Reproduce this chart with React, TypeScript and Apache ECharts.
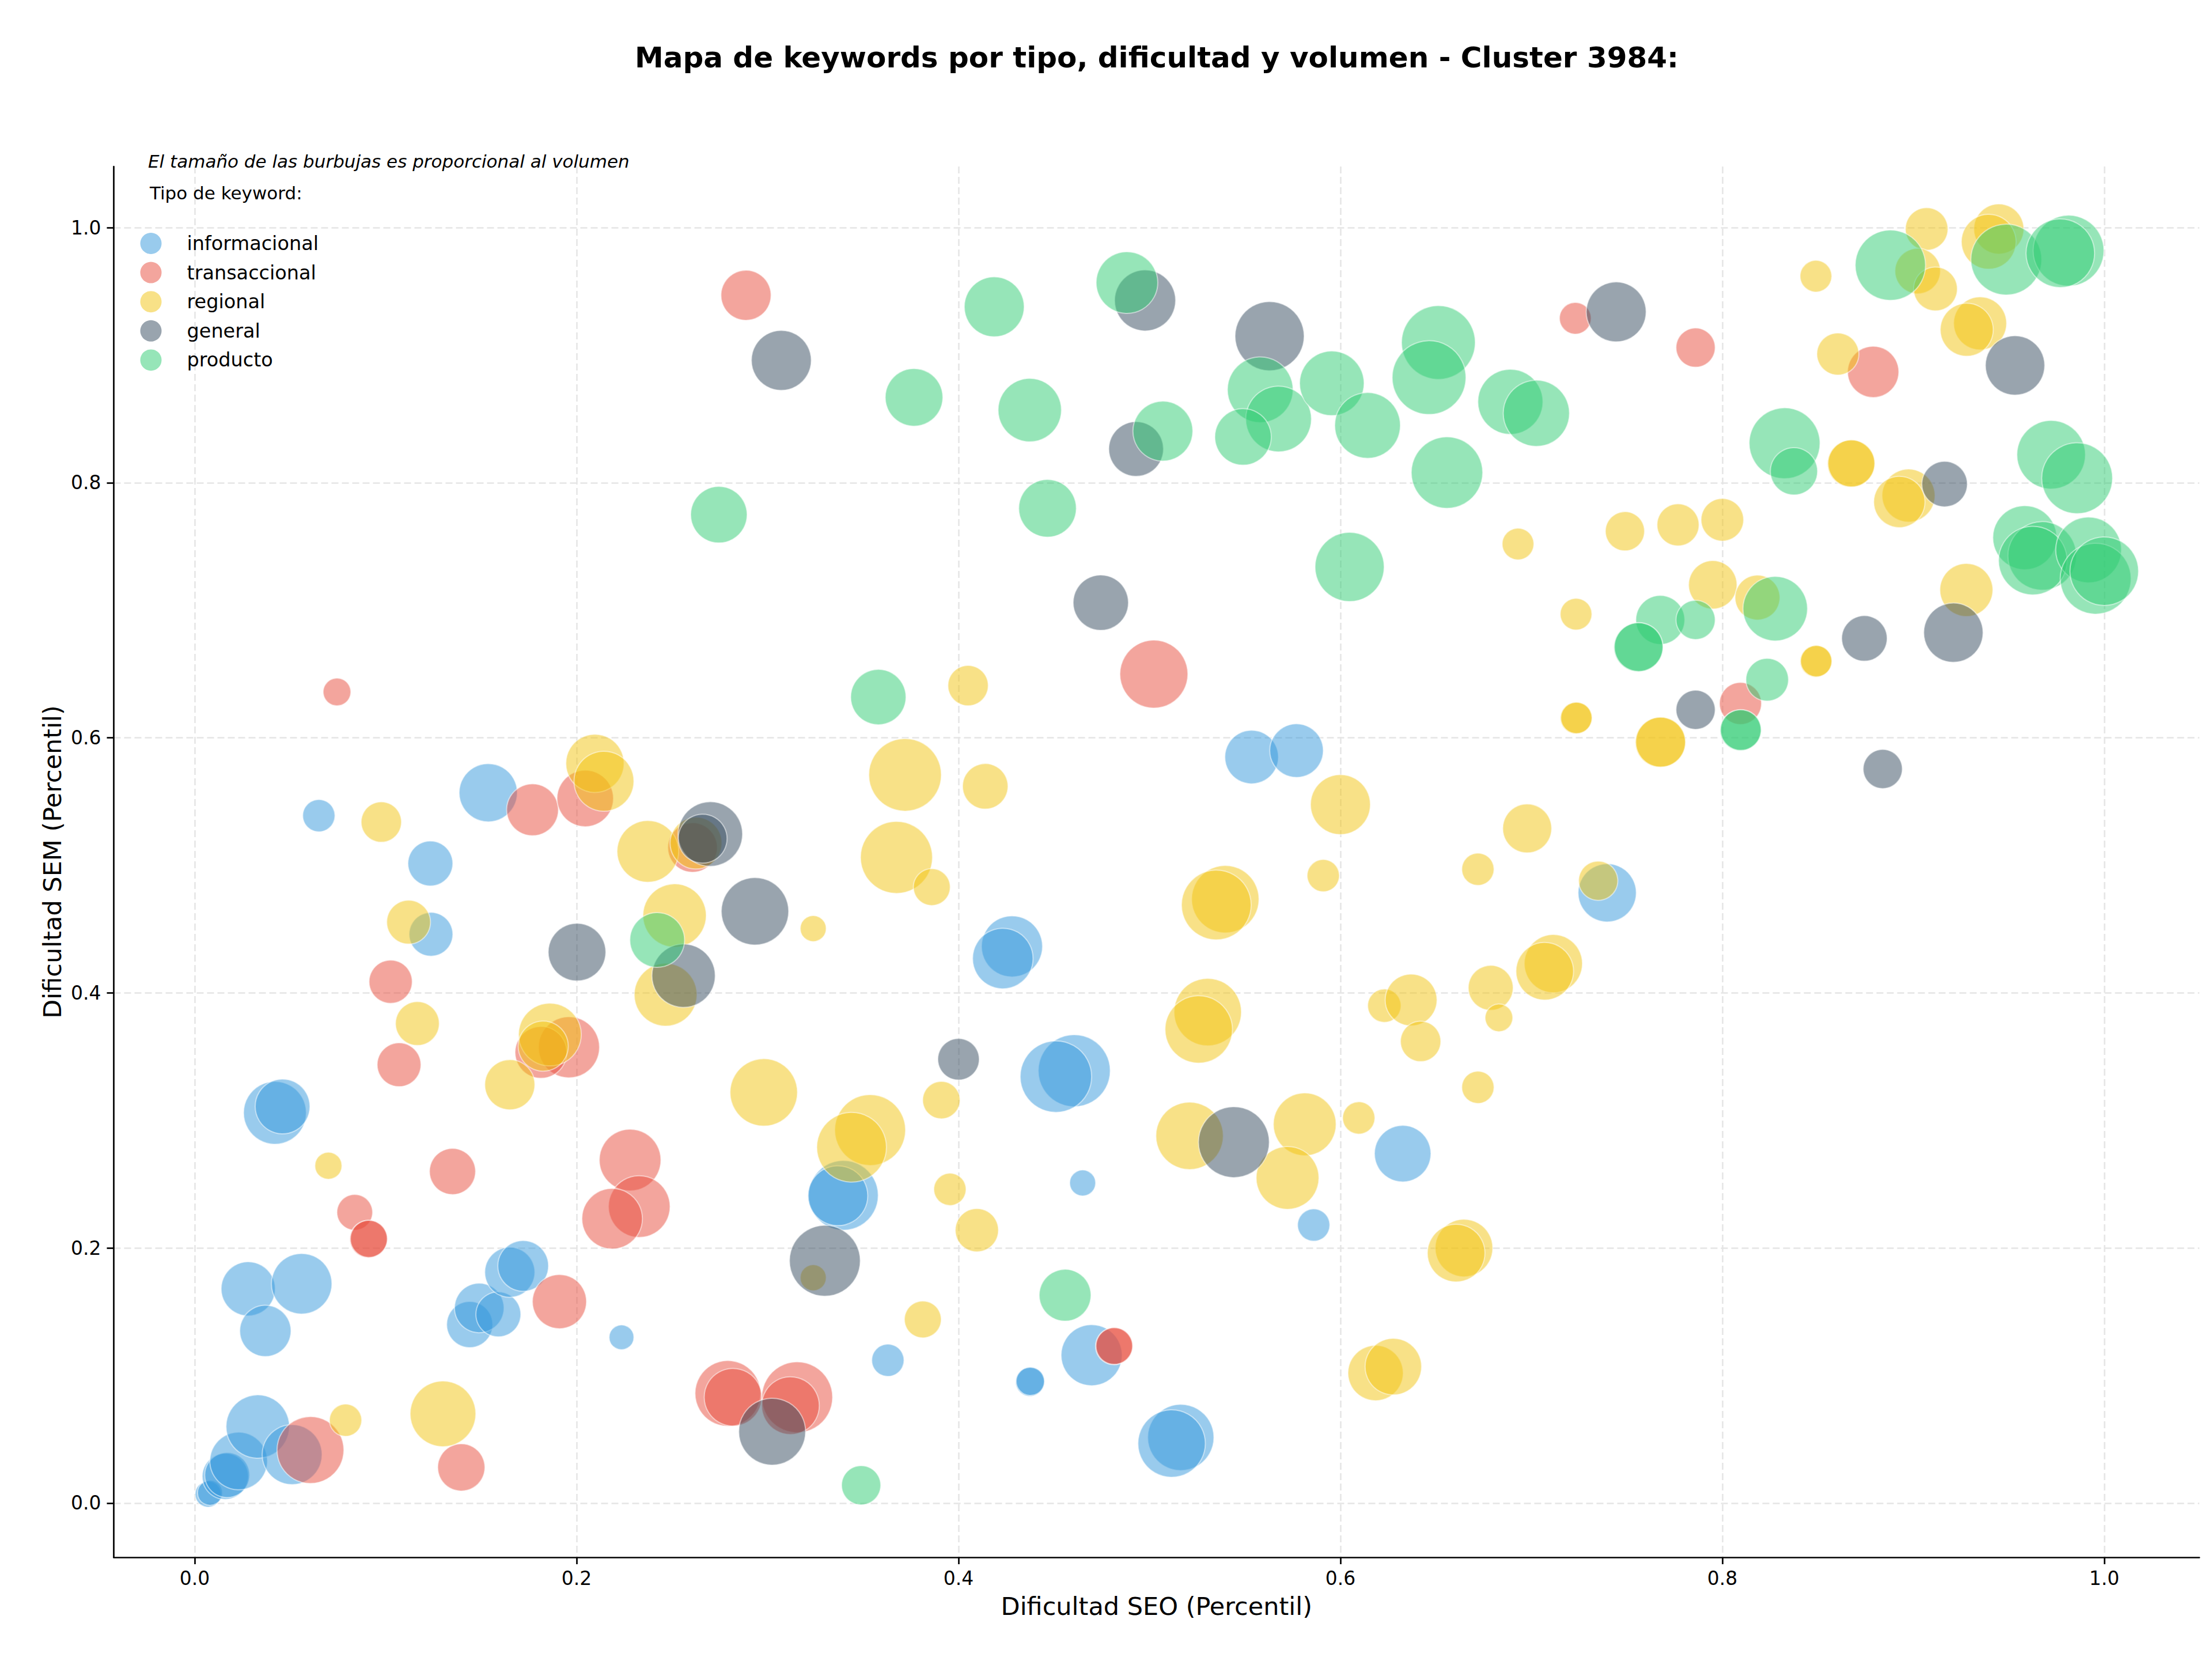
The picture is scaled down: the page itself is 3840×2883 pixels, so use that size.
import React, { useEffect, useRef } from "react";
import * as echarts from "echarts";

// ---- DATA: [Dificultad SEO, Dificultad SEM, volumen] ----
const informacional: [number, number, number][] = [
  [0.007, 0.007, 1300], [0.008, 0.008, 1200],
  [0.016, 0.021, 4100], [0.017, 0.022, 3900],
  [0.023, 0.033, 6400], [0.033, 0.06, 7740], [0.051, 0.038, 6920],
  [0.028, 0.168, 5650], [0.056, 0.172, 7060], [0.037, 0.135, 5070],
  [0.042, 0.306, 7600], [0.046, 0.311, 5780],
  [0.144, 0.14, 4100], [0.149, 0.153, 4730], [0.159, 0.148, 3890],
  [0.165, 0.181, 4840], [0.172, 0.186, 4960], [0.2235, 0.13, 1180],
  [0.065, 0.539, 2010], [0.1234, 0.5015, 3890], [0.1537, 0.557, 6530],
  [0.1237, 0.446, 3700], [0.5535, 0.585, 5540], [0.577, 0.59, 5540],
  [0.428, 0.4365, 7190], [0.4232, 0.427, 7060],
  [0.4606, 0.339, 10000], [0.451, 0.3344, 9840],
  [0.3397, 0.2413, 9370], [0.3368, 0.241, 6900],
  [0.465, 0.251, 1300], [0.586, 0.218, 2010], [0.6326, 0.274, 6150],
  [0.363, 0.112, 2010], [0.4697, 0.116, 7190],
  [0.4374, 0.095, 1600], [0.4376, 0.0955, 1550],
  [0.5164, 0.0515, 8460], [0.5116, 0.0467, 8760], [0.7397, 0.4785, 6530],
];

const transaccional: [number, number, number][] = [
  [0.0606, 0.0416, 8610], [0.1396, 0.028, 4300], [0.0838, 0.228, 2460],
  [0.091, 0.207, 2700], [0.0912, 0.2072, 2650],
  [0.135, 0.26, 4100], [0.191, 0.158, 5650],
  [0.228, 0.269, 7330], [0.2328, 0.2325, 7330], [0.2186, 0.223, 7060],
  [0.2792, 0.086, 8320], [0.2819, 0.083, 6400],
  [0.3155, 0.083, 9680], [0.312, 0.0764, 6400],
  [0.0745, 0.636, 1480], [0.1769, 0.5436, 5180], [0.2045, 0.5525, 6150],
  [0.2607, 0.514, 4730], [0.1026, 0.4088, 3600], [0.107, 0.3437, 3700],
  [0.196, 0.3574, 7190], [0.1813, 0.3534, 5180], [0.5023, 0.65, 8910],
  [0.4814, 0.123, 2620], [0.4816, 0.1232, 2600],
  [0.2887, 0.947, 4840], [0.723, 0.929, 1940], [0.786, 0.906, 2960],
  [0.879, 0.887, 5070], [0.8095, 0.627, 3410],
];

const regional: [number, number, number][] = [
  [0.079, 0.065, 2010], [0.13, 0.07, 8320], [0.07, 0.2645, 1410],
  [0.165, 0.328, 4840], [0.0977, 0.534, 3140], [0.2096, 0.58, 6530],
  [0.2143, 0.566, 6920], [0.2373, 0.511, 7330], [0.2625, 0.5175, 5180],
  [0.112, 0.4555, 3700], [0.1166, 0.376, 3700], [0.2513, 0.4607, 7740],
  [0.2466, 0.3986, 7600], [0.186, 0.3674, 7600], [0.1825, 0.3583, 4840],
  [0.298, 0.322, 8760], [0.3239, 0.4505, 1300], [0.405, 0.641, 3140],
  [0.372, 0.571, 10160], [0.414, 0.562, 3990], [0.3675, 0.5063, 10000],
  [0.386, 0.483, 2620], [0.6, 0.5477, 6920], [0.5397, 0.4735, 8760],
  [0.535, 0.469, 9370], [0.591, 0.492, 2010], [0.672, 0.497, 2010],
  [0.5305, 0.385, 8760], [0.5258, 0.3714, 8760], [0.623, 0.39, 2150],
  [0.637, 0.3945, 5180], [0.6787, 0.404, 3890], [0.683, 0.3805, 1480],
  [0.642, 0.362, 3140], [0.672, 0.326, 2010], [0.391, 0.316, 2700],
  [0.3537, 0.2925, 9680], [0.344, 0.279, 9370], [0.3955, 0.246, 2010],
  [0.4096, 0.214, 3600], [0.521, 0.288, 8760], [0.5813, 0.297, 7600],
  [0.5723, 0.255, 7600], [0.6096, 0.302, 2010], [0.6647, 0.2, 6400],
  [0.6606, 0.196, 6400], [0.3239, 0.1767, 1300], [0.3813, 0.144, 2620],
  [0.6184, 0.102, 5900], [0.6277, 0.107, 6150], [0.6978, 0.529, 4620],
  [0.735, 0.488, 2960], [0.7115, 0.423, 6530], [0.707, 0.417, 6400],
  [0.7234, 0.6155, 1940], [0.7236, 0.6157, 1900],
  [0.7675, 0.5965, 4840], [0.7677, 0.5967, 4800],
  [0.849, 0.66, 1940], [0.8492, 0.6602, 1900],
  [0.907, 0.999, 3500], [0.9448, 0.999, 4840], [0.9395, 0.989, 5780],
  [0.9023, 0.966, 3990], [0.9116, 0.952, 3700], [0.849, 0.962, 1940],
  [0.935, 0.925, 5420], [0.928, 0.92, 5420], [0.8605, 0.901, 3410],
  [0.8674, 0.815, 4300], [0.8676, 0.8152, 4250],
  [0.8975, 0.79, 5420], [0.8927, 0.785, 5070], [0.9278, 0.716, 5420],
  [0.795, 0.72, 4520], [0.8184, 0.71, 3890], [0.7234, 0.697, 1940],
  [0.693, 0.752, 1940], [0.749, 0.762, 2960], [0.7768, 0.767, 3410],
  [0.8, 0.771, 3500],
];

const general: [number, number, number][] = [
  [0.3024, 0.056, 8610], [0.33, 0.19, 9680], [0.27, 0.5246, 8030],
  [0.266, 0.521, 4600], [0.2002, 0.432, 6400], [0.256, 0.4135, 7740],
  [0.2934, 0.464, 8760], [0.4, 0.348, 3320], [0.5442, 0.283, 9680],
  [0.3072, 0.896, 6920], [0.4977, 0.943, 7190], [0.5629, 0.915, 9220],
  [0.493, 0.8265, 5780], [0.4745, 0.706, 5900], [0.7444, 0.934, 6920],
  [0.9533, 0.892, 6790], [0.9164, 0.799, 3990], [0.8744, 0.678, 3990],
  [0.921, 0.6825, 6790], [0.786, 0.622, 2960], [0.884, 0.5756, 2960],
];

const producto: [number, number, number][] = [
  [0.349, 0.014, 2960], [0.4558, 0.163, 5180], [0.2422, 0.4415, 5780],
  [0.358, 0.632, 5900], [0.2745, 0.775, 6150], [0.4882, 0.957, 7330],
  [0.4187, 0.938, 6920], [0.3767, 0.867, 6400], [0.4373, 0.857, 7740],
  [0.507, 0.8405, 6920], [0.558, 0.873, 8320], [0.5676, 0.85, 8320],
  [0.549, 0.836, 6150], [0.5955, 0.878, 8030], [0.6142, 0.845, 8320],
  [0.6513, 0.91, 10490], [0.6464, 0.8825, 10490], [0.6558, 0.808, 9840],
  [0.4466, 0.78, 6400], [0.6048, 0.734, 9220], [0.689, 0.8635, 8170],
  [0.7026, 0.8545, 8460], [0.888, 0.9706, 9530], [0.9487, 0.975, 9680],
  [0.9813, 0.982, 9680], [0.977, 0.98, 9060], [0.8326, 0.831, 9680],
  [0.8375, 0.809, 4300], [0.9722, 0.822, 9060], [0.9858, 0.8036, 9680],
  [0.9584, 0.757, 7890], [0.9675, 0.7427, 9060], [0.9626, 0.739, 9060],
  [0.9918, 0.7474, 8320], [0.9955, 0.7248, 9680], [1.0, 0.7307, 9060],
  [0.8277, 0.7013, 8030], [0.7675, 0.6925, 4620], [0.786, 0.6925, 2960],
  [0.756, 0.671, 4620], [0.7562, 0.6712, 4580],
  [0.8235, 0.6456, 3500],
  [0.8095, 0.606, 3230], [0.8097, 0.6062, 3200],
];

const TYPE_NAMES = ["informacional", "transaccional", "regional", "general", "producto"];
const TYPE_DATA = [informacional, transaccional, regional, general, producto];
const TYPE_COLORS = ["#3498db", "#e74c3c", "#f1c40f", "#34495e", "#2ecc71"];
const X_TICKS = [0, 0.2, 0.4, 0.6, 0.8, 1.0];
const Y_TICKS = [0, 0.2, 0.4, 0.6, 0.8, 1.0];

const TITLE = "Mapa de keywords por tipo, dificultad y volumen - Cluster 3984:";
const NOTE = "El tamaño de las burbujas es proporcional al volumen";
const LEGEND_TITLE = "Tipo de keyword:";
const X_NAME = "Dificultad SEO (Percentil)";
const Y_NAME = "Dificultad SEM (Percentil)";

const FONT = '"DejaVu Sans", "Liberation Sans", sans-serif';

export default function App() {
  const ref = useRef<HTMLDivElement>(null);

  useEffect(() => {
    if (!ref.current) return;
    const chart = echarts.init(ref.current, null, { renderer: "svg" });

    const axisCommon = {
      type: "value" as const,
      axisLine: { show: true, onZero: false, lineStyle: { color: "#000", width: 2.7 } },
      axisTick: {
        show: true,
        inside: false,
        length: 12,
        lineStyle: { color: "#000", width: 2.7 },
      },
      axisLabel: {
        color: "#000",
        fontSize: 33,
        fontFamily: FONT,
        formatter: (v: number) => v.toFixed(1),
      },
      splitLine: {
        show: true,
        lineStyle: { color: "#e5e5e5", width: 2.5, type: [12, 6] as any },
      },
      nameLocation: "middle" as const,
      nameTextStyle: { color: "#000", fontSize: 43, fontFamily: FONT },
    };

    const option: any = {
      animation: false,
      backgroundColor: "#ffffff",
      grid: { left: 197.5, right: 22, top: 289, bottom: 180, containLabel: false },
      xAxis: {
        ...axisCommon,
        min: -0.0424,
        max: 1.0498,
        name: X_NAME,
        nameGap: 63,
        axisTick: { ...axisCommon.axisTick, customValues: X_TICKS },
        axisLabel: { ...axisCommon.axisLabel, margin: 20, customValues: X_TICKS },
      },
      yAxis: {
        ...axisCommon,
        min: -0.0425,
        max: 1.048,
        name: Y_NAME,
        nameGap: 83,
        axisTick: { ...axisCommon.axisTick, customValues: Y_TICKS },
        axisLabel: { ...axisCommon.axisLabel, margin: 22, customValues: Y_TICKS },
      },
      legend: {
        show: true,
        orient: "vertical",
        left: 243.5,
        top: 404,
        padding: 0,
        itemWidth: 37,
        itemHeight: 37,
        itemGap: 13.6,
        icon: "circle",
        data: TYPE_NAMES,
        selectedMode: false,
        itemStyle: { opacity: 0.5, borderWidth: 0 },
        textStyle: {
          color: "#000",
          fontSize: 33.5,
          fontFamily: FONT,
          padding: [0, 0, 0, 39],
        },
      },
      graphic: [
        {
          type: "text",
          x: 2008,
          y: 100,
          style: {
            text: TITLE,
            font: `bold 50px ${FONT}`,
            fill: "#000",
            align: "center",
            verticalAlign: "middle",
          },
        },
        {
          type: "text",
          x: 257,
          y: 280,
          z: 100,
          style: {
            text: NOTE,
            font: `italic 31px ${FONT}`,
            fill: "#000",
            align: "left",
            verticalAlign: "middle",
          },
        },
        {
          type: "text",
          x: 260,
          y: 335,
          z: 100,
          style: {
            text: LEGEND_TITLE,
            font: `31px ${FONT}`,
            fill: "#000",
            align: "left",
            verticalAlign: "middle",
          },
        },
      ],
      series: TYPE_NAMES.map((name, i) => ({
        type: "scatter",
        name,
        data: TYPE_DATA[i],
        symbol: "circle",
        symbolSize: (v: number[]) => Math.sqrt(v[2]) * 1.25,
        itemStyle: {
          color: TYPE_COLORS[i],
          opacity: 0.5,
          borderColor: "#ffffff",
          borderWidth: 2,
        },
        emphasis: { disabled: true },
        z: 2 + i,
      })),
    };

    chart.setOption(option);
    return () => chart.dispose();
  }, []);

  return (
    <div
      ref={ref}
      style={{ position: "absolute", left: 0, top: 0, width: 3840, height: 2883 }}
    />
  );
}
